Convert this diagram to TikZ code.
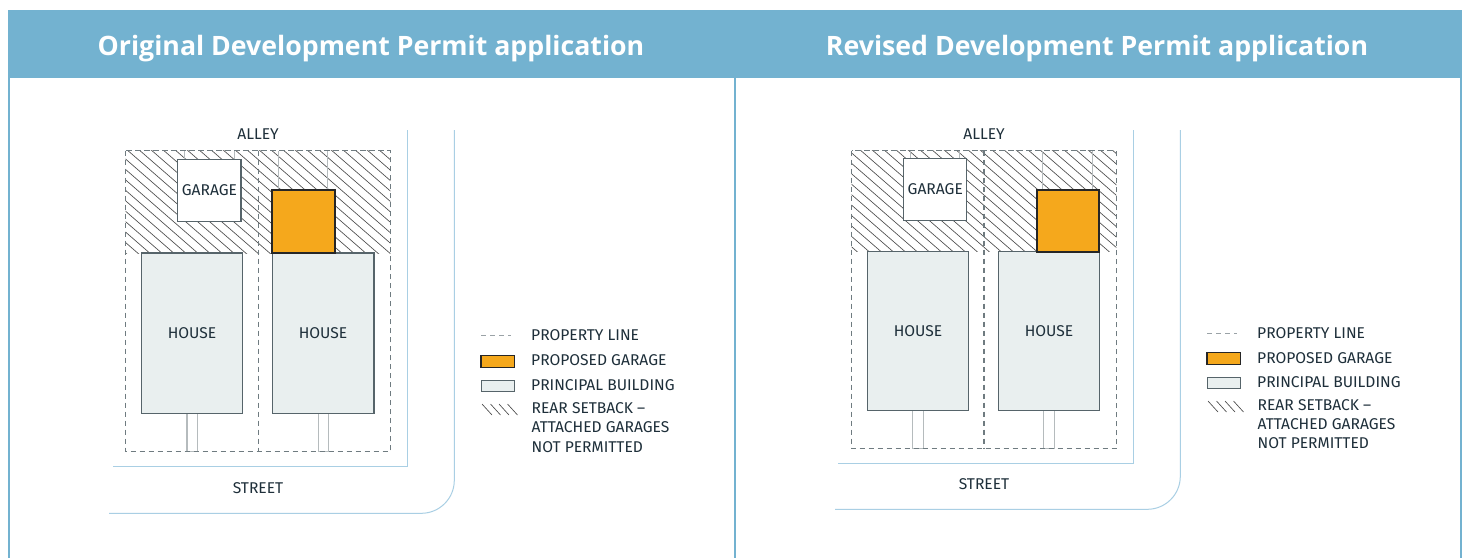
\documentclass[tikz,border=0pt]{standalone}
\usepackage{fontspec}
\setmainfont{Fira Sans}
\newfontfamily\titlefont{Open Sans}
\definecolor{headblue}{HTML}{73B2D0}
\definecolor{garageorange}{HTML}{F5A81C}
\definecolor{housefill}{HTML}{E9EFEF}
\definecolor{linegray}{HTML}{56646A}
\definecolor{ghostgray}{HTML}{B5BBBD}
\definecolor{roadblue}{HTML}{A9CFE4}
\definecolor{inktext}{HTML}{1E2F3A}
\tikzset{
  titletext/.style={text=white,font=\titlefont\bfseries\fontsize{26.7}{30}\selectfont,inner sep=0pt,anchor=center},
  bodytext/.style={text=inktext,font=\fontsize{15.6}{18}\selectfont,inner sep=0pt,anchor=center},
  legendtext/.style={bodytext,anchor=west},
  propline/.style={draw=linegray!85,line width=1.4pt,dash pattern=on 5.5pt off 3.5pt},
  hatchline/.style={draw=black!70,line width=.65pt},
  ghostline/.style={draw=ghostgray,line width=1pt},
  housebox/.style={draw=linegray,fill=housefill,line width=1.2pt},
  garagebox/.style={draw=linegray,fill=white,line width=1.2pt},
  newgarage/.style={draw=black!85,fill=garageorange,line width=1.8pt},
  walkbox/.style={draw=ghostgray,fill=white,line width=1.2pt},
  roadline/.style={draw=roadblue,line width=1pt},
}
\begin{document}
\begin{tikzpicture}[x=1pt,y=-1pt]
\useasboundingbox (0,0) rectangle (1467,558);
\fill[white] (0,0) rectangle (1467,558);
% frame and header
\draw[headblue,line width=2pt] (9,78) -- (9,558);
\draw[headblue,line width=2pt] (735,78) -- (735,558);
\draw[headblue,line width=2pt] (1461,78) -- (1461,558);
\fill[headblue] (8,10) rectangle (1462,78);
\node[titletext] (t1) at (371,48.5) {Original Development Permit application};
\node[titletext] (t2) at (1097,48.5) {Revised Development Permit application};

% ===== left panel =====
\begin{scope}
\clip (125.7,150.7) rectangle (390.3,253);
\foreach \c in {-50.3,-38.3,...,400} \draw[hatchline] (\c,100) -- (\c+230,300);
\end{scope}
\draw[ghostline] (184,151) -- (184,160) (234.3,151) -- (234.3,160);
\draw[ghostline] (278,151) -- (278,190) (327.7,151) -- (327.7,190);
\draw[walkbox] (187,413.3) rectangle (197.3,451.7);
\draw[walkbox] (318.3,413.3) rectangle (328.7,451.7);
\draw[propline] (125.7,150.7) rectangle (390.3,451.7);
\draw[propline] (258.3,150.7) -- (258.3,451.7);
\draw[garagebox] (177.7,159.3) rectangle (241,221.3);
\draw[housebox] (141.3,253) rectangle (242.7,413.3);
\draw[housebox] (272.3,253) rectangle (374,413.3);
\draw[newgarage] (271.7,190) rectangle (335.3,253);
\draw[roadline] (407.7,130) -- (407.7,466.7) -- (112.7,466.7);
\draw[roadline] (454.3,130) -- (454.3,480.3) arc[start angle=0,end angle=90,radius=33] -- (109,513.3);
\node[bodytext] (alleyA) at (258,134.5) {ALLEY};
\node[bodytext] (streetA) at (258,488) {STREET};
\node[bodytext] (garageA) at (209.4,190) {GARAGE};
\node[bodytext] (houseA1) at (192,333) {HOUSE};
\node[bodytext] (houseA2) at (323,333) {HOUSE};
% legend
\draw[draw=linegray!60,line width=.8pt,dash pattern=on 5pt off 4pt] (481,335) -- (511,335);
\draw[newgarage] (481,355.5) rectangle (514.5,367.5);
\draw[draw=linegray,fill=housefill,line width=1pt] (481,380) rectangle (514.5,391.3);
\foreach \d in {0,8.5,17,25.5} \draw[hatchline] (482+\d,403+1) -- (482+\d+10,403+12);
\node[legendtext] (la1) at (531,335) {PROPERTY LINE};
\node[legendtext] (la2) at (531,360) {PROPOSED GARAGE};
\node[legendtext] (la3) at (531,385) {PRINCIPAL BUILDING};
\node[legendtext] (la4) at (531.5,408) {REAR SETBACK –};
\node[legendtext] (la5) at (531.5,427.5) {ATTACHED GARAGES};
\node[legendtext] (la6) at (531.5,447) {NOT PERMITTED};

% ===== right panel =====
\begin{scope}
\clip (851.7,150.7) rectangle (1116.3,251.5);
\foreach \c in {670.7,682.7,...,1126} \draw[hatchline] (\c,100) -- (\c+230,300);
\end{scope}
\draw[ghostline] (910.3,151) -- (910.3,159) (959.7,151) -- (959.7,159);
\draw[ghostline] (1042.7,151) -- (1042.7,190) (1092,151) -- (1092,190);
\draw[walkbox] (912.7,410.7) rectangle (923.7,448.7);
\draw[walkbox] (1043.7,410.7) rectangle (1054.7,448.7);
\draw[propline] (851.7,150.7) rectangle (1116.3,448.7);
\draw[propline] (984,150.7) -- (984,448.7);
\draw[garagebox] (903.7,158.7) rectangle (966.7,220.3);
\draw[housebox] (867.3,251.3) rectangle (968.3,410.7);
\draw[housebox] (998.7,251.3) rectangle (1099.7,410.7);
\draw[newgarage] (1036.7,189.7) rectangle (1099.3,251.7);
\draw[roadline] (1133.3,130) -- (1133.3,463.3) -- (838,463.3);
\draw[roadline] (1180.3,130) -- (1180.3,476.3) arc[start angle=0,end angle=90,radius=33] -- (835,509.3);
\node[bodytext] (alleyB) at (984,134) {ALLEY};
\node[bodytext] (streetB) at (984,484.5) {STREET};
\node[bodytext] (garageB) at (935.3,189) {GARAGE};
\node[bodytext] (houseB1) at (918,331) {HOUSE};
\node[bodytext] (houseB2) at (1049,331) {HOUSE};
% legend
\draw[draw=linegray!60,line width=.8pt,dash pattern=on 5pt off 4pt] (1207,333) -- (1237,333);
\draw[newgarage] (1207,352.5) rectangle (1240.5,364.5);
\draw[draw=linegray,fill=housefill,line width=1pt] (1207,377) rectangle (1240.5,388.3);
\foreach \d in {0,8.5,17,25.5} \draw[hatchline] (1208+\d,400+1) -- (1208+\d+10,400+12);
\node[legendtext] (lb1) at (1257,333) {PROPERTY LINE};
\node[legendtext] (lb2) at (1257,358) {PROPOSED GARAGE};
\node[legendtext] (lb3) at (1257,382) {PRINCIPAL BUILDING};
\node[legendtext] (lb4) at (1257.5,405) {REAR SETBACK –};
\node[legendtext] (lb5) at (1257.5,424.5) {ATTACHED GARAGES};
\node[legendtext] (lb6) at (1257.5,443.5) {NOT PERMITTED};
\end{tikzpicture}
\end{document}
